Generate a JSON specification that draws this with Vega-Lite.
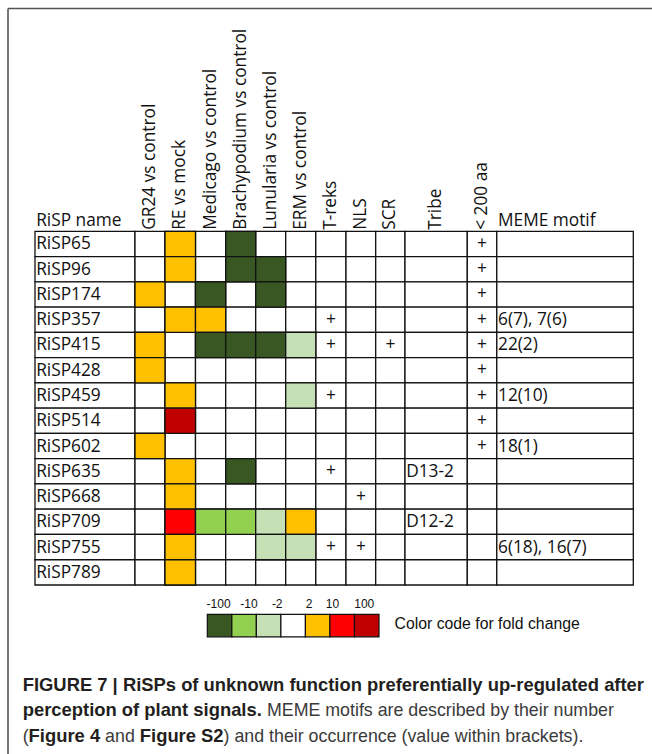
{
  "$schema": "https://vega.github.io/schema/vega-lite/v6.json",
  "width": 652,
  "height": 754,
  "autosize": "none",
  "padding": 0,
  "background": "white",
  "config": {"view": {"stroke": null}},
  "datasets": {
    "columns": [
      {"col": "RiSP name", "c0": 0, "c1": 1, "mid": 0.5, "kind": "text"},
      {"col": "GR24 vs control", "c0": 1, "c1": 2, "mid": 1.5, "kind": "fold"},
      {"col": "RE vs mock", "c0": 2, "c1": 3, "mid": 2.5, "kind": "fold"},
      {"col": "Medicago vs control", "c0": 3, "c1": 4, "mid": 3.5, "kind": "fold"},
      {"col": "Brachypodium vs control", "c0": 4, "c1": 5, "mid": 4.5, "kind": "fold"},
      {"col": "Lunularia vs control", "c0": 5, "c1": 6, "mid": 5.5, "kind": "fold"},
      {"col": "ERM vs control", "c0": 6, "c1": 7, "mid": 6.5, "kind": "fold"},
      {"col": "T-reks", "c0": 7, "c1": 8, "mid": 7.5, "kind": "flag"},
      {"col": "NLS", "c0": 8, "c1": 9, "mid": 8.5, "kind": "flag"},
      {"col": "SCR", "c0": 9, "c1": 10, "mid": 9.5, "kind": "flag"},
      {"col": "Tribe", "c0": 10, "c1": 11, "mid": 10.5, "kind": "text"},
      {"col": "< 200 aa", "c0": 11, "c1": 12, "mid": 11.5, "kind": "flag"},
      {"col": "MEME motif", "c0": 12, "c1": 13, "mid": 12.5, "kind": "text"}
    ],
    "table": [
      {"RiSP name": "RiSP65", "RE vs mock": "2 to 10", "Brachypodium vs control": "≤ −100", "< 200 aa": "+"},
      {"RiSP name": "RiSP96", "RE vs mock": "2 to 10", "Brachypodium vs control": "≤ −100", "Lunularia vs control": "≤ −100", "< 200 aa": "+"},
      {"RiSP name": "RiSP174", "GR24 vs control": "2 to 10", "Medicago vs control": "≤ −100", "Lunularia vs control": "≤ −100", "< 200 aa": "+"},
      {"RiSP name": "RiSP357", "RE vs mock": "2 to 10", "Medicago vs control": "2 to 10", "T-reks": "+", "< 200 aa": "+", "MEME motif": "6(7), 7(6)"},
      {"RiSP name": "RiSP415", "GR24 vs control": "2 to 10", "Medicago vs control": "≤ −100", "Brachypodium vs control": "≤ −100", "Lunularia vs control": "≤ −100", "ERM vs control": "−10 to −2", "T-reks": "+", "SCR": "+", "< 200 aa": "+", "MEME motif": "22(2)"},
      {"RiSP name": "RiSP428", "GR24 vs control": "2 to 10", "< 200 aa": "+"},
      {"RiSP name": "RiSP459", "RE vs mock": "2 to 10", "ERM vs control": "−10 to −2", "T-reks": "+", "< 200 aa": "+", "MEME motif": "12(10)"},
      {"RiSP name": "RiSP514", "RE vs mock": "≥ 100", "< 200 aa": "+"},
      {"RiSP name": "RiSP602", "GR24 vs control": "2 to 10", "< 200 aa": "+", "MEME motif": "18(1)"},
      {"RiSP name": "RiSP635", "RE vs mock": "2 to 10", "Brachypodium vs control": "≤ −100", "T-reks": "+", "Tribe": "D13-2"},
      {"RiSP name": "RiSP668", "RE vs mock": "2 to 10", "NLS": "+"},
      {"RiSP name": "RiSP709", "RE vs mock": "10 to 100", "Medicago vs control": "−100 to −10", "Brachypodium vs control": "−100 to −10", "Lunularia vs control": "−10 to −2", "ERM vs control": "2 to 10", "Tribe": "D12-2"},
      {"RiSP name": "RiSP755", "RE vs mock": "2 to 10", "Lunularia vs control": "−10 to −2", "ERM vs control": "−10 to −2", "T-reks": "+", "NLS": "+", "MEME motif": "6(18), 16(7)"},
      {"RiSP name": "RiSP789", "RE vs mock": "2 to 10"}
    ],
    "legend": [
      {"cat": "≤ −100"}, {"cat": "−100 to −10"}, {"cat": "−10 to −2"}, {"cat": "−2 to 2"},
      {"cat": "2 to 10"}, {"cat": "10 to 100"}, {"cat": "≥ 100"}
    ],
    "legendLabels": [
      {"label": "-100", "pos": 0.46},
      {"label": "-10", "pos": 1.7},
      {"label": "-2", "pos": 2.85},
      {"label": "2", "pos": 4.15},
      {"label": "10", "pos": 5.1},
      {"label": "100", "pos": 6.4}
    ],
    "caption": [
      {"line": 1, "x": 22.7, "role": "title", "text": "FIGURE 7 | RiSPs of unknown function preferentially up-regulated after"},
      {"line": 2, "x": 22.7, "role": "title", "text": "perception of plant signals."},
      {"line": 2, "x": 267, "role": "body", "text": "MEME motifs are described by their number"},
      {"line": 3, "x": 22.7, "role": "body", "text": "("},
      {"line": 3, "x": 28.6, "role": "ref", "text": "Figure 4"},
      {"line": 3, "x": 105.1, "role": "body", "text": "and"},
      {"line": 3, "x": 139.8, "role": "ref", "text": "Figure S2"},
      {"line": 3, "x": 223.6, "role": "body", "text": ") and their occurrence (value within brackets)."}
    ]
  },
  "layer": [
    {
      "data": {"name": "table"},
      "transform": [
        {"fold": ["RiSP name", "GR24 vs control", "RE vs mock", "Medicago vs control", "Brachypodium vs control", "Lunularia vs control", "ERM vs control", "T-reks", "NLS", "SCR", "Tribe", "< 200 aa", "MEME motif"]},
        {"lookup": "key", "from": {"data": {"name": "columns"}, "key": "col", "fields": ["c0", "c1", "mid", "kind"]}}
      ],
      "layer": [
        {
          "mark": {"type": "rect", "fill": "white", "stroke": "#111111", "strokeWidth": 1.3},
          "encoding": {
            "x": {"field": "c0", "type": "quantitative", "axis": null, "scale": {"type": "linear", "domain": [0,1,2,3,4,5,6,7,8,9,10,11,12,13], "range": [35,135,165,195.5,225.7,255.7,285.7,315.8,346,375.7,405,467.3,496.8,633.3], "nice": false, "zero": false}},
            "x2": {"field": "c1"},
            "y": {"field": "RiSP name", "type": "nominal", "axis": null, "scale": {"domain": ["RiSP65","RiSP96","RiSP174","RiSP357","RiSP415","RiSP428","RiSP459","RiSP514","RiSP602","RiSP635","RiSP668","RiSP709","RiSP755","RiSP789"], "range": [231.3, 585], "paddingInner": 0, "paddingOuter": 0}}
          }
        },
        {
          "transform": [{"filter": "datum.kind === 'fold' && isValid(datum.value)"}],
          "mark": {"type": "rect", "stroke": "#111111", "strokeWidth": 1.3},
          "encoding": {
            "x": {"field": "c0", "type": "quantitative", "axis": null, "scale": {"type": "linear", "domain": [0,1,2,3,4,5,6,7,8,9,10,11,12,13], "range": [35,135,165,195.5,225.7,255.7,285.7,315.8,346,375.7,405,467.3,496.8,633.3], "nice": false, "zero": false}},
            "x2": {"field": "c1"},
            "y": {"field": "RiSP name", "type": "nominal", "axis": null, "scale": {"domain": ["RiSP65","RiSP96","RiSP174","RiSP357","RiSP415","RiSP428","RiSP459","RiSP514","RiSP602","RiSP635","RiSP668","RiSP709","RiSP755","RiSP789"], "range": [231.3, 585], "paddingInner": 0, "paddingOuter": 0}},
            "color": {"field": "value", "type": "nominal", "legend": null, "scale": {"domain": ["≤ −100","−100 to −10","−10 to −2","−2 to 2","2 to 10","10 to 100","≥ 100"], "range": ["#385723","#92D050","#C5E0B4","#FFFFFF","#FFC000","#FF0000","#C00000"]}}
          }
        },
        {
          "transform": [{"filter": "datum.kind === 'text' && isValid(datum.value)"}],
          "mark": {"type": "text", "align": "left", "baseline": "middle", "dx": 1.2, "dy": 0.5, "font": "Open Sans", "fontSize": 17.3, "color": "#111111"},
          "encoding": {
            "x": {"field": "c0", "type": "quantitative", "axis": null, "scale": {"type": "linear", "domain": [0,1,2,3,4,5,6,7,8,9,10,11,12,13], "range": [35,135,165,195.5,225.7,255.7,285.7,315.8,346,375.7,405,467.3,496.8,633.3], "nice": false, "zero": false}},
            "y": {"field": "RiSP name", "type": "nominal", "axis": null, "scale": {"domain": ["RiSP65","RiSP96","RiSP174","RiSP357","RiSP415","RiSP428","RiSP459","RiSP514","RiSP602","RiSP635","RiSP668","RiSP709","RiSP755","RiSP789"], "range": [231.3, 585], "paddingInner": 0, "paddingOuter": 0}},
            "text": {"field": "value"}
          }
        },
        {
          "transform": [{"filter": "datum.kind === 'flag' && isValid(datum.value)"}],
          "mark": {"type": "text", "align": "center", "baseline": "middle", "dy": 0, "font": "Open Sans", "fontSize": 17.3, "color": "#111111"},
          "encoding": {
            "x": {"field": "mid", "type": "quantitative", "axis": null, "scale": {"type": "linear", "domain": [0,1,2,3,4,5,6,7,8,9,10,11,12,13], "range": [35,135,165,195.5,225.7,255.7,285.7,315.8,346,375.7,405,467.3,496.8,633.3], "nice": false, "zero": false}},
            "y": {"field": "RiSP name", "type": "nominal", "axis": null, "scale": {"domain": ["RiSP65","RiSP96","RiSP174","RiSP357","RiSP415","RiSP428","RiSP459","RiSP514","RiSP602","RiSP635","RiSP668","RiSP709","RiSP755","RiSP789"], "range": [231.3, 585], "paddingInner": 0, "paddingOuter": 0}},
            "text": {"field": "value"}
          }
        }
      ]
    },
    {
      "data": {"name": "columns"},
      "layer": [
        {
          "transform": [{"filter": "datum.col !== 'RiSP name' && datum.col !== 'MEME motif'"}],
          "mark": {"type": "text", "angle": 270, "align": "left", "baseline": "middle", "font": "Open Sans", "fontSize": 17.3, "color": "#111111"},
          "encoding": {
            "x": {"field": "mid", "type": "quantitative", "axis": null, "scale": {"type": "linear", "domain": [0,1,2,3,4,5,6,7,8,9,10,11,12,13], "range": [35,135,165,195.5,225.7,255.7,285.7,315.8,346,375.7,405,467.3,496.8,633.3], "nice": false, "zero": false}},
            "y": {"datum": 229.8, "type": "quantitative", "axis": null, "scale": {"domain": [0, 754], "range": [0, 754], "nice": false, "zero": false}},
            "text": {"field": "col"}
          }
        },
        {
          "transform": [{"filter": "datum.col === 'RiSP name' || datum.col === 'MEME motif'"}],
          "mark": {"type": "text", "align": "left", "baseline": "alphabetic", "dx": 1.2, "font": "Open Sans", "fontSize": 17.3, "color": "#111111"},
          "encoding": {
            "x": {"field": "c0", "type": "quantitative", "axis": null, "scale": {"type": "linear", "domain": [0,1,2,3,4,5,6,7,8,9,10,11,12,13], "range": [35,135,165,195.5,225.7,255.7,285.7,315.8,346,375.7,405,467.3,496.8,633.3], "nice": false, "zero": false}},
            "y": {"datum": 225.5, "type": "quantitative", "axis": null, "scale": {"domain": [0, 754], "range": [0, 754], "nice": false, "zero": false}},
            "text": {"field": "col"}
          }
        }
      ]
    },
    {
      "data": {"name": "legend"},
      "mark": {"type": "rect", "stroke": "#111111", "strokeWidth": 1.2},
      "encoding": {
        "x": {"field": "cat", "type": "nominal", "axis": null, "scale": {"domain": ["≤ −100","−100 to −10","−10 to −2","−2 to 2","2 to 10","10 to 100","≥ 100"], "range": [207.3, 379], "paddingInner": 0, "paddingOuter": 0}},
        "y": {"datum": 614.3, "type": "quantitative", "axis": null, "scale": {"domain": [0, 754], "range": [0, 754], "nice": false, "zero": false}},
        "y2": {"datum": 636.8},
        "color": {"field": "cat", "type": "nominal", "legend": null, "scale": {"domain": ["≤ −100","−100 to −10","−10 to −2","−2 to 2","2 to 10","10 to 100","≥ 100"], "range": ["#385723","#92D050","#C5E0B4","#FFFFFF","#FFC000","#FF0000","#C00000"]}}
      }
    },
    {
      "data": {"name": "legendLabels"},
      "mark": {"type": "text", "align": "center", "baseline": "alphabetic", "font": "Liberation Sans", "fontSize": 12, "color": "#111111"},
      "encoding": {
        "x": {"field": "pos", "type": "quantitative", "axis": null, "scale": {"domain": [0, 7], "range": [207.3, 379], "nice": false, "zero": false}},
        "y": {"datum": 608.3, "type": "quantitative", "axis": null, "scale": {"domain": [0, 754], "range": [0, 754], "nice": false, "zero": false}},
        "text": {"field": "label"}
      }
    },
    {
      "data": {"values": [{"what": "frame"}]},
      "layer": [
        {
          "mark": {"type": "rule", "color": "#555555", "strokeWidth": 1.6},
          "encoding": {
            "x": {"datum": 8, "type": "quantitative", "axis": null, "scale": {"domain": [0, 652], "range": [0, 652], "nice": false, "zero": false}},
            "x2": {"datum": 652},
            "y": {"datum": 8.5, "type": "quantitative", "axis": null, "scale": {"domain": [0, 754], "range": [0, 754], "nice": false, "zero": false}}
          }
        },
        {
          "mark": {"type": "rule", "color": "#555555", "strokeWidth": 1.6},
          "encoding": {
            "x": {"datum": 8, "type": "quantitative", "axis": null, "scale": {"domain": [0, 652], "range": [0, 652], "nice": false, "zero": false}},
            "y": {"datum": 8.5, "type": "quantitative", "axis": null, "scale": {"domain": [0, 754], "range": [0, 754], "nice": false, "zero": false}},
            "y2": {"datum": 754}
          }
        },
        {
          "mark": {"type": "text", "align": "left", "baseline": "alphabetic", "font": "Liberation Sans", "fontSize": 15.8, "color": "#111111", "text": "Color code for fold change"},
          "encoding": {
            "x": {"datum": 394.5, "type": "quantitative", "axis": null, "scale": {"domain": [0, 652], "range": [0, 652], "nice": false, "zero": false}},
            "y": {"datum": 628.5, "type": "quantitative", "axis": null, "scale": {"domain": [0, 754], "range": [0, 754], "nice": false, "zero": false}}
          }
        }
      ]
    },
    {
      "data": {"name": "caption"},
      "layer": [
        {
          "transform": [{"filter": "datum.role !== 'body'"}],
          "mark": {"type": "text", "align": "left", "baseline": "alphabetic", "font": "Liberation Sans", "fontWeight": "bold", "fontSize": 18.4, "color": "#231F20"},
          "encoding": {
            "x": {"field": "x", "type": "quantitative", "axis": null, "scale": {"domain": [0, 652], "range": [0, 652], "nice": false, "zero": false}},
            "y": {"field": "line", "type": "quantitative", "axis": null, "scale": {"domain": [1, 3], "range": [690.7, 741.7], "nice": false, "zero": false}},
            "text": {"field": "text"}
          }
        },
        {
          "transform": [{"filter": "datum.role === 'body'"}],
          "mark": {"type": "text", "align": "left", "baseline": "alphabetic", "font": "Liberation Sans", "fontSize": 17.8, "color": "#3a3a3a"},
          "encoding": {
            "x": {"field": "x", "type": "quantitative", "axis": null, "scale": {"domain": [0, 652], "range": [0, 652], "nice": false, "zero": false}},
            "y": {"field": "line", "type": "quantitative", "axis": null, "scale": {"domain": [1, 3], "range": [690.7, 741.7], "nice": false, "zero": false}},
            "text": {"field": "text"}
          }
        }
      ]
    }
  ],
  "resolve": {"scale": {"x": "independent", "y": "independent"}}
}
